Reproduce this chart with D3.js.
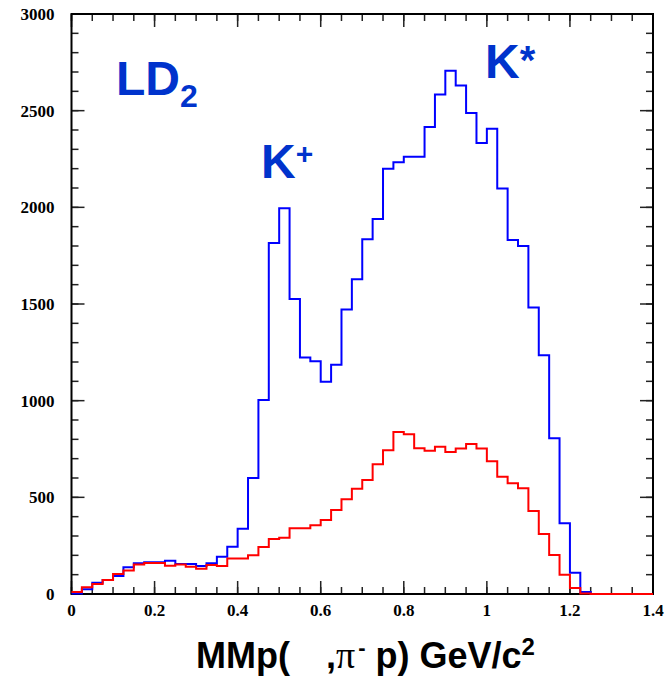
<!DOCTYPE html>
<html>
<head>
<meta charset="utf-8">
<script src="https://cdn.jsdelivr.net/npm/d3@7"></script>
<style>
  body { margin: 0; background: #fff; }
  svg { display: block; }
</style>
</head>
<body>
<div id="chart"></div>
<script>
// Missing-mass histograms (LD2 target), bin width 0.025 GeV/c^2 starting at 0
const binStart = 0;
const binWidth = 0.025;

const blueCounts = [
  3, 24, 58, 72, 93, 138, 159, 164, 164, 172,
  155, 155, 145, 159, 193, 245, 338, 600, 1003, 1815,
  1995, 1526, 1223, 1204, 1098, 1186, 1472, 1628, 1835, 1940,
  2199, 2233, 2262, 2262, 2416, 2583, 2706, 2630, 2488, 2333,
  2407, 2097, 1831, 1800, 1482, 1235, 805, 366, 110, 10,
  0, 0, 0, 0, 0, 0
];

const redCounts = [
  10, 35, 52, 72, 103, 121, 153, 160, 160, 146,
  153, 141, 131, 150, 145, 183, 183, 200, 243, 284,
  291, 340, 340, 355, 383, 435, 490, 545, 590, 671,
  743, 838, 826, 754, 741, 762, 735, 752, 776, 752,
  686, 607, 573, 547, 429, 310, 202, 100, 31, 3,
  0, 0, 0, 0, 0, 0
];

const xTicks = [0, 0.2, 0.4, 0.6, 0.8, 1, 1.2, 1.4];
const yTicks = [0, 500, 1000, 1500, 2000, 2500, 3000];

const width = 669, height = 686;
const margin = { top: 14, right: 16, bottom: 92, left: 71.5 };

const svg = d3.select('#chart')
    .append('svg')
    .attr('width', width)
    .attr('height', height);

const x = d3.scaleLinear().domain([0, 1.4]).range([margin.left, width - margin.right]);
const y = d3.scaleLinear().domain([0, 3000]).range([height - margin.bottom, margin.top]);

const xMinor = d3.range(0, 1.4001, 0.05);
const yMinor = d3.range(0, 3000.1, 100);

const serif = '"Liberation Serif", "Times New Roman", serif';
const x0 = x(0), x1 = x(1.4), y0 = y(0), y1 = y(3000);

// tick marks pointing inward on all four sides
const ticks = svg.append('g').attr('class', 'ticks');
function addTicks(values, len, sw, col) {
    values.forEach(v => {
        const px = x(v);
        ticks.append('line').attr('x1', px).attr('x2', px).attr('y1', y0).attr('y2', y0 - len);
        ticks.append('line').attr('x1', px).attr('x2', px).attr('y1', y1).attr('y2', y1 + len);
    });
    return { sw, col };
}
function addYTicks(values, len) {
    values.forEach(v => {
        const py = y(v);
        ticks.append('line').attr('x1', x0).attr('x2', x0 + len).attr('y1', py).attr('y2', py);
        ticks.append('line').attr('x1', x1).attr('x2', x1 - len).attr('y1', py).attr('y2', py);
    });
}
addTicks(xMinor, 7);
addTicks(xTicks, 13);
addYTicks(yMinor, 7);
addYTicks(yTicks, 13);
ticks.selectAll('line').attr('stroke', '#222').attr('stroke-width', 1.5);

// tick labels
svg.append('g').selectAll('text')
    .data(xTicks)
    .join('text')
    .attr('x', d => x(d))
    .attr('y', y0 + 22)
    .attr('text-anchor', 'middle')
    .style('font-family', serif)
    .style('font-weight', 'bold')
    .style('font-size', '17px')
    .text(d => d3.format('')(d));

svg.append('g').selectAll('text')
    .data(yTicks)
    .join('text')
    .attr('x', x0 - 17)
    .attr('y', d => y(d) + 6)
    .attr('text-anchor', 'end')
    .style('font-family', serif)
    .style('font-weight', 'bold')
    .style('font-size', '17px')
    .text(d => d);

// frame
svg.append('rect')
    .attr('x', x0)
    .attr('y', y1)
    .attr('width', x1 - x0)
    .attr('height', y0 - y1)
    .attr('fill', 'none')
    .attr('stroke', '#000')
    .attr('stroke-width', 2);

// step outlines for the histograms
function stepPoints(counts) {
    const pts = [];
    counts.forEach((c, i) => {
        const a = binStart + i * binWidth;
        pts.push([a, c]);
        pts.push([a + binWidth, c]);
    });
    return pts;
}

const line = d3.line()
    .x(d => x(d[0]))
    .y(d => y(d[1]));

svg.append('path')
    .attr('d', line(stepPoints(blueCounts)))
    .attr('fill', 'none')
    .attr('stroke', '#0000ff')
    .attr('stroke-width', 2);

svg.append('path')
    .attr('d', line(stepPoints(redCounts)))
    .attr('fill', 'none')
    .attr('stroke', '#ff0000')
    .attr('stroke-width', 2);

// labels
const sans = '"Liberation Sans", Arial, Helvetica, sans-serif';
const labelColor = '#0033cc';

const ld = svg.append('text')
    .attr('x', 116)
    .attr('y', 95)
    .style('font-family', sans)
    .style('font-weight', 'bold')
    .style('font-size', '48px')
    .attr('fill', labelColor);
ld.append('tspan').text('LD');
ld.append('tspan').attr('dy', 12).style('font-size', '32px').text('2');

const kp = svg.append('text')
    .attr('x', 261)
    .attr('y', 178)
    .style('font-family', sans)
    .style('font-weight', 'bold')
    .style('font-size', '48px')
    .attr('fill', labelColor);
kp.append('tspan').text('K');
kp.append('tspan').attr('dy', -14).style('font-size', '30px').text('+');

const ks = svg.append('text')
    .attr('x', 485)
    .attr('y', 78)
    .style('font-family', sans)
    .style('font-weight', 'bold')
    .style('font-size', '48px')
    .attr('fill', labelColor);
ks.append('tspan').text('K');
ks.append('tspan').attr('dy', -4).style('font-size', '40px').text('*');

// x-axis title
const title = svg.append('text')
    .attr('x', 196)
    .attr('y', 668)
    .style('font-family', sans)
    .style('font-weight', 'bold')
    .style('font-size', '36px')
    .attr('fill', '#000');
title.append('tspan').text('MMp(');
title.append('tspan').attr('dx', 36).text(',');
title.append('tspan').style('font-family', serif).style('font-weight', 'normal').style('font-size', '38px').text('π');
title.append('tspan').attr('dx', 3).attr('dy', -13).style('font-size', '22px').text('-');
title.append('tspan').attr('dy', 13).text(' p) GeV/c');
title.append('tspan').attr('dy', -13).style('font-size', '24px').text('2');
</script>
</body>
</html>
